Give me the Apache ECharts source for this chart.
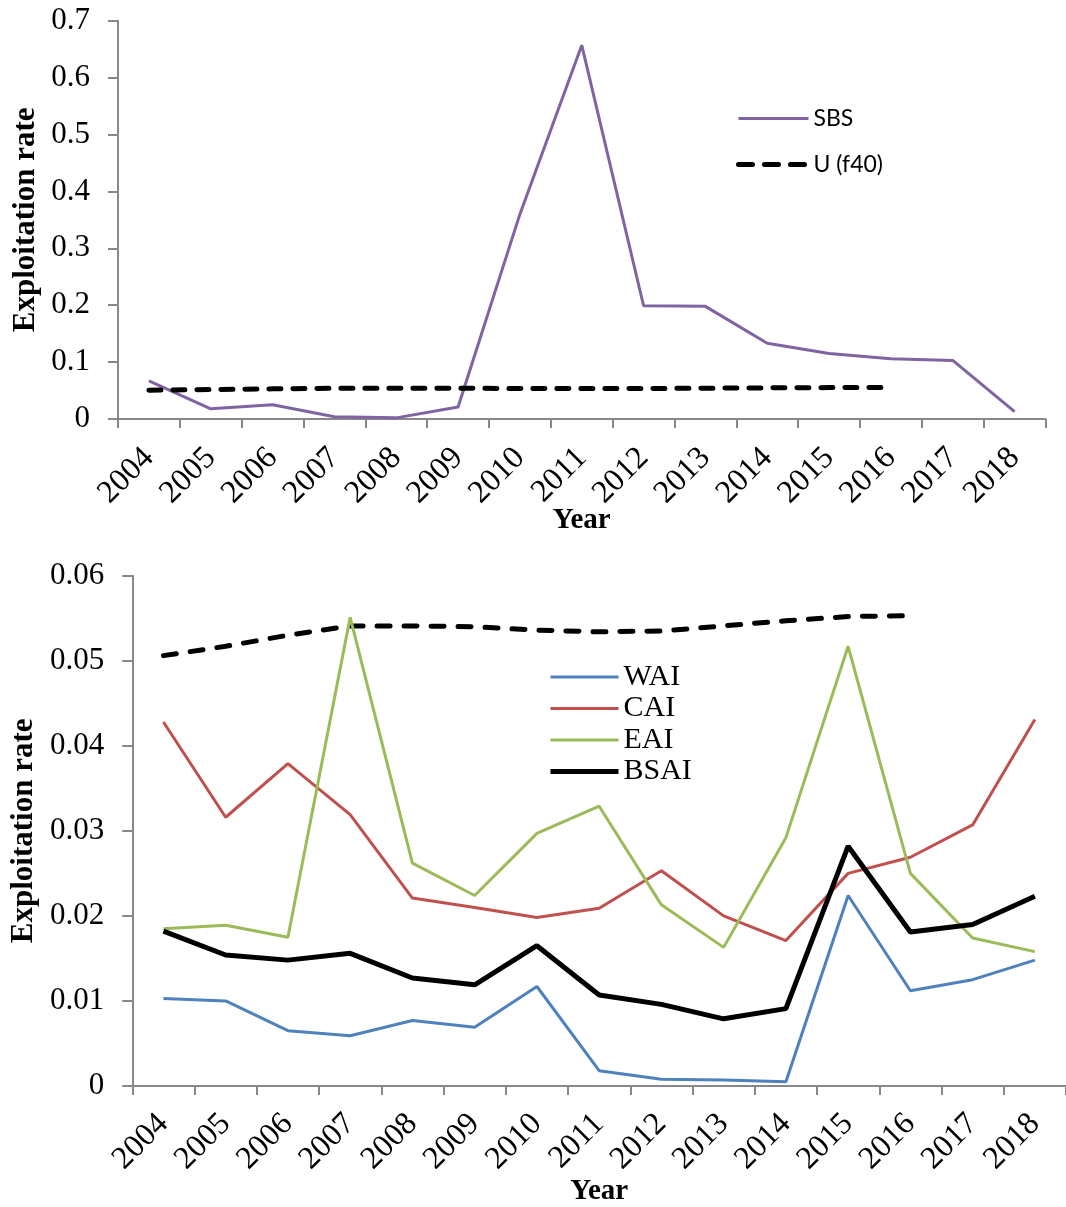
<!DOCTYPE html>
<html>
<head>
<meta charset="utf-8">
<script src="https://cdn.jsdelivr.net/npm/echarts@6/dist/echarts.min.js"></script>
<style>
  html, body { margin: 0; padding: 0; background: #fff; }
  #chart { width: 1066px; height: 1207px; }
</style>
</head>
<body>
<div id="chart"></div>
<script>
// data
var years = ['2004', '2005', '2006', '2007', '2008', '2009', '2010', '2011', '2012', '2013', '2014', '2015', '2016', '2017', '2018'];
var sbs = [0.067, 0.018, 0.025, 0.004, 0.002, 0.021, 0.360, 0.657, 0.199, 0.198, 0.133, 0.115, 0.106, 0.103, 0.013];
var uF40 = [0.0506, 0.0517, 0.0530, 0.0541, 0.0541, 0.0540, 0.0536, 0.0534, 0.0535, 0.0541, 0.0547, 0.0552, 0.0553];
var wai = [0.0103, 0.0100, 0.0065, 0.0059, 0.0077, 0.0069, 0.0117, 0.0018, 0.0008, 0.0007, 0.0005, 0.0224, 0.0112, 0.0125, 0.0148];
var cai = [0.0428, 0.0316, 0.0379, 0.0319, 0.0221, 0.0210, 0.0198, 0.0209, 0.0253, 0.0200, 0.0171, 0.0250, 0.0269, 0.0307, 0.0431];
var eai = [0.0185, 0.0189, 0.0175, 0.0551, 0.0262, 0.0224, 0.0297, 0.0329, 0.0213, 0.0163, 0.0292, 0.0517, 0.0250, 0.0174, 0.0158];
var bsai = [0.0182, 0.0154, 0.0148, 0.0156, 0.0127, 0.0119, 0.0165, 0.0107, 0.0096, 0.0079, 0.0091, 0.0282, 0.0181, 0.0190, 0.0223];

var serif = 'Liberation Serif';
var axisGrey = '#888888';
var purple = '#8064A2', blue = '#4F81BD', red = '#C0504D', green = '#9BBB59';

var myChart = echarts.init(document.getElementById('chart'));

function xAxisFor(idx, gap, margin) {
  return {
    type: 'category',
    gridIndex: idx,
    data: years,
    boundaryGap: true,
    name: 'Year',
    nameLocation: 'middle',
    nameGap: gap,
    nameMoveOverlap: false,
    nameTextStyle: { fontFamily: serif, fontWeight: 'bold', fontSize: 29, color: '#000' },
    axisLine: { lineStyle: { color: axisGrey, width: 2 } },
    axisTick: { show: true, length: 9, lineStyle: { color: axisGrey, width: 2 } },
    axisLabel: { interval: 0, rotate: 45, margin: margin, fontFamily: serif, fontSize: 32, color: '#000' },
    splitLine: { show: false }
  };
}

function yAxisFor(idx, max, step, gap) {
  return {
    type: 'value',
    gridIndex: idx,
    min: 0,
    max: max,
    interval: step,
    name: 'Exploitation rate',
    nameLocation: 'middle',
    nameRotate: 90,
    nameGap: gap,
    nameMoveOverlap: false,
    nameTextStyle: { fontFamily: serif, fontWeight: 'bold', fontSize: 31, color: '#000' },
    axisLine: { show: true, lineStyle: { color: axisGrey, width: 2 } },
    axisTick: { show: true, length: 10, lineStyle: { color: axisGrey, width: 2 } },
    axisLabel: { margin: 28, fontFamily: serif, fontSize: 31, color: '#000' },
    splitLine: { show: false }
  };
}

var topDash = { color: '#000', width: 5, type: [12, 12], cap: 'round' };
var bottomDash = { color: '#000', width: 5, type: [13, 14], cap: 'round' };

var option = {
  animation: false,
  backgroundColor: '#fff',
  grid: [
    { left: 118, top: 20.7, width: 927.5, height: 398.3 },
    { left: 132.3, top: 575.7, width: 939.7, height: 511.6 }
  ],
  legend: [
    {
      data: [
        { name: 'SBS', lineStyle: { color: purple, width: 3 } },
        { name: 'U (f40)', lineStyle: { color: '#000', width: 5, type: [14, 12], cap: 'round' } }
      ],
      orient: 'vertical',
      left: 736,
      top: 107,
      padding: 0,
      itemWidth: 70,
      itemHeight: 12,
      itemGap: 23,
      itemStyle: { opacity: 0 },
      textStyle: { fontFamily: 'Lato', fontSize: 23, lineHeight: 23, color: '#000' }
    },
    {
      data: [
        { name: 'WAI', lineStyle: { color: blue, width: 3 } },
        { name: 'CAI', lineStyle: { color: red, width: 3 } },
        { name: 'EAI', lineStyle: { color: green, width: 3 } },
        { name: 'BSAI', lineStyle: { color: '#000', width: 5 } }
      ],
      orient: 'vertical',
      left: 548,
      top: 662,
      padding: 0,
      itemWidth: 68,
      itemHeight: 12,
      itemGap: 1.5,
      itemStyle: { opacity: 0 },
      textStyle: { fontFamily: serif, fontSize: 30, lineHeight: 30, color: '#000' }
    }
  ],
  xAxis: [xAxisFor(0, 87, 34), xAxisFor(1, 91, 33)],
  yAxis: [yAxisFor(0, 0.7, 0.1, 77), yAxisFor(1, 0.06, 0.01, 93)],
  series: [
    {
      name: 'SBS', type: 'line', xAxisIndex: 0, yAxisIndex: 0,
      data: sbs, symbol: 'none',
      lineStyle: { color: purple, width: 3 }, itemStyle: { color: purple }
    },
    {
      name: 'U (f40)', type: 'line', xAxisIndex: 0, yAxisIndex: 0,
      data: uF40, symbol: 'none',
      lineStyle: topDash, itemStyle: { color: '#000' }
    },
    {
      name: 'U (f40)', type: 'line', xAxisIndex: 1, yAxisIndex: 1,
      data: uF40, symbol: 'none',
      lineStyle: bottomDash, itemStyle: { color: '#000' }
    },
    {
      name: 'WAI', type: 'line', xAxisIndex: 1, yAxisIndex: 1,
      data: wai, symbol: 'none',
      lineStyle: { color: blue, width: 3 }, itemStyle: { color: blue }
    },
    {
      name: 'CAI', type: 'line', xAxisIndex: 1, yAxisIndex: 1,
      data: cai, symbol: 'none',
      lineStyle: { color: red, width: 3 }, itemStyle: { color: red }
    },
    {
      name: 'EAI', type: 'line', xAxisIndex: 1, yAxisIndex: 1,
      data: eai, symbol: 'none',
      lineStyle: { color: green, width: 3 }, itemStyle: { color: green }
    },
    {
      name: 'BSAI', type: 'line', xAxisIndex: 1, yAxisIndex: 1,
      data: bsai, symbol: 'none',
      lineStyle: { color: '#000', width: 5 }, itemStyle: { color: '#000' }
    }
  ]
};

option && myChart.setOption(option);
</script>
</body>
</html>
